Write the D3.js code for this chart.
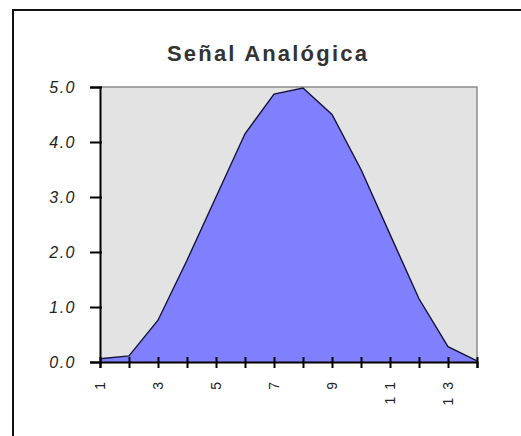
<!DOCTYPE html>
<html>
<head>
<meta charset="utf-8">
<script src="https://cdn.jsdelivr.net/npm/d3@7"></script>
<style>
  body { margin: 0; background: #fff; }
  svg { display: block; }
</style>
</head>
<body>
<div id="chart"></div>
<script>
const width = 521;
const height = 436;

// data
const categories = d3.range(1, 15);
const values = [0.06, 0.11, 0.76, 1.85, 3.0, 4.15, 4.87, 4.98, 4.5, 3.5, 2.32, 1.15, 0.28, 0.02];
const yTicks = [0, 1, 2, 3, 4, 5];
const xLabels = [1, 3, 5, 7, 9, 11, 13];
const title = "Señal Analógica";

const plot = {left: 100, right: 477, top: 87, bottom: 362};

const svg = d3.select('#chart')
    .append('svg')
    .attr('width', width)
    .attr('height', height);

// outer chart frame (runs off the right and bottom edges)
svg.append('rect')
    .attr('x', 13)
    .attr('y', 10)
    .attr('width', 540)
    .attr('height', 460)
    .attr('fill', '#fff')
    .attr('stroke', '#111')
    .attr('stroke-width', 2);

const x = d3.scalePoint()
    .domain(categories)
    .range([plot.left, plot.right]);

const y = d3.scaleLinear()
    .domain([0, 5])
    .range([plot.bottom, plot.top]);

// plot background
svg.append('rect')
    .attr('x', plot.left)
    .attr('y', plot.top)
    .attr('width', plot.right - plot.left)
    .attr('height', plot.bottom - plot.top)
    .attr('fill', '#e3e3e3');

svg.append('path')
    .attr('d', `M${plot.left},${plot.top}H${plot.right}V${plot.bottom}`)
    .attr('fill', 'none')
    .attr('stroke', '#8a8a8a')
    .attr('stroke-width', 1.5);

const area = d3.area()
    .x((d, i) => x(categories[i]))
    .y0(y(0))
    .y1(d => y(d));

const line = d3.line()
    .x((d, i) => x(categories[i]))
    .y(d => y(d));

svg.append('path')
    .datum(values)
    .attr('d', area)
    .attr('fill', '#8080ff');

svg.append('path')
    .datum(values)
    .attr('d', line)
    .attr('fill', 'none')
    .attr('stroke', '#141438')
    .attr('stroke-width', 1.4);

// y axis
const yAxis = svg.append('g')
    .attr('transform', `translate(${plot.left},0)`)
    .call(d3.axisLeft(y).tickValues(yTicks).tickSize(10).tickFormat(d3.format('.1f')));

yAxis.select('.domain').attr('stroke', '#000').attr('stroke-width', 2);
yAxis.selectAll('.tick line')
    .attr('x2', -10).attr('x1', 2)
    .attr('stroke', '#000').attr('stroke-width', 2);
yAxis.selectAll('.tick text')
    .attr('x', -24)
    .attr('font-family', 'Arial, "Liberation Sans", sans-serif')
    .attr('font-size', 16)
    .attr('font-style', 'italic')
    .attr('letter-spacing', 1.5)
    .attr('fill', '#222');

// x axis
const xAxis = svg.append('g')
    .attr('transform', `translate(0,${plot.bottom})`)
    .call(d3.axisBottom(x).tickSize(6).tickFormat(''));

xAxis.select('.domain').attr('stroke', '#000').attr('stroke-width', 2);
xAxis.selectAll('.tick line')
    .attr('y1', -5)
    .attr('stroke', '#000').attr('stroke-width', 2);

svg.append('g')
    .selectAll('text')
    .data(xLabels)
    .enter().append('text')
    .attr('transform', d => `translate(${x(d)},${plot.bottom + 12}) rotate(-90)`)
    .attr('text-anchor', 'end')
    .attr('dy', '0.35em')
    .attr('font-family', 'Arial, "Liberation Sans", sans-serif')
    .attr('font-size', 14)
    .attr('letter-spacing', 8)
    .attr('fill', '#222')
    .text(d => d);

// title
svg.append('text')
    .attr('x', 268)
    .attr('y', 61)
    .attr('text-anchor', 'middle')
    .attr('font-family', 'Arial, "Liberation Sans", sans-serif')
    .attr('font-size', 22)
    .attr('font-weight', 'bold')
    .attr('letter-spacing', 2.2)
    .attr('fill', '#333')
    .text(title);
</script>
</body>
</html>
